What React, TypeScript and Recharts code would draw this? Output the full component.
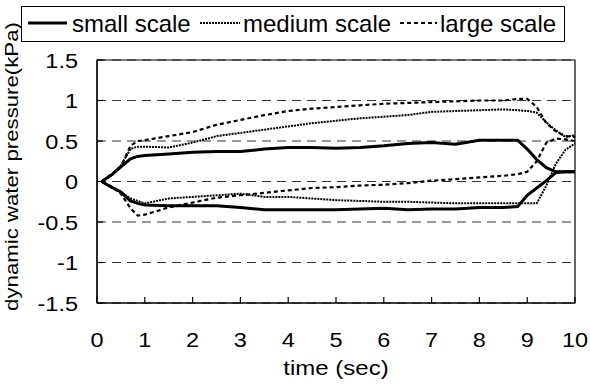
import { CartesianGrid, Label, Line, LineChart, ReferenceArea, XAxis, YAxis } from "recharts";

// sample times (sec) shared by every trace
const times = [0.1, 0.3, 0.5, 0.7, 0.85, 1, 1.5, 2, 2.5, 3, 3.5, 4, 4.5, 5, 5.5, 6, 6.5, 7, 7.5, 8, 8.5, 8.8, 9, 9.2, 9.4, 9.6, 9.8, 10];

// dynamic water pressure (kPa), upper and lower envelope per model scale
const smallUpper = [0, 0.08, 0.18, 0.28, 0.31, 0.32, 0.34, 0.36, 0.37, 0.37, 0.4, 0.42, 0.42, 0.41, 0.42, 0.44, 0.47, 0.48, 0.46, 0.51, 0.51, 0.51, 0.4, 0.27, 0.17, 0.12, 0.12, 0.12];
const smallLower = [0, -0.07, -0.13, -0.24, -0.27, -0.29, -0.3, -0.3, -0.3, -0.32, -0.35, -0.35, -0.35, -0.35, -0.34, -0.33, -0.35, -0.34, -0.34, -0.32, -0.32, -0.31, -0.17, -0.08, 0.01, 0.11, 0.12, 0.12];
const mediumUpper = [0, 0.08, 0.2, 0.4, 0.43, 0.43, 0.42, 0.48, 0.56, 0.6, 0.64, 0.68, 0.72, 0.75, 0.78, 0.8, 0.82, 0.86, 0.87, 0.88, 0.89, 0.88, 0.87, 0.85, 0.73, 0.63, 0.55, 0.57];
const mediumLower = [0, -0.07, -0.13, -0.21, -0.24, -0.27, -0.21, -0.19, -0.17, -0.15, -0.19, -0.19, -0.21, -0.23, -0.24, -0.25, -0.25, -0.26, -0.27, -0.27, -0.27, -0.27, -0.27, -0.27, -0.05, 0.22, 0.39, 0.47];
const largeUpper = [0, 0.09, 0.18, 0.44, 0.5, 0.51, 0.56, 0.61, 0.7, 0.76, 0.82, 0.87, 0.9, 0.92, 0.94, 0.96, 0.97, 0.98, 0.99, 1, 1, 1.02, 1.02, 0.92, 0.72, 0.62, 0.56, 0.55];
const largeLower = [0, -0.06, -0.15, -0.33, -0.42, -0.41, -0.32, -0.26, -0.2, -0.17, -0.14, -0.11, -0.08, -0.07, -0.05, -0.04, -0.02, 0.01, 0.03, 0.05, 0.07, 0.09, 0.12, 0.25, 0.48, 0.53, 0.52, 0.5];

const xTicks = [0, 1, 2, 3, 4, 5, 6, 7, 8, 9, 10];
const yTicks = [-1.5, -1, -0.5, 0, 0.5, 1, 1.5];

const rows = times.map((t, i) => ({
  t,
  smallUpper: smallUpper[i],
  smallLower: smallLower[i],
  mediumUpper: mediumUpper[i],
  mediumLower: mediumLower[i],
  largeUpper: largeUpper[i],
  largeLower: largeLower[i],
}));

const FONT = "'Liberation Sans', Arial, sans-serif";

const styles = {
  small: { stroke: "#000", strokeWidth: 3, strokeDasharray: undefined },
  medium: { stroke: "#000", strokeWidth: 2, strokeDasharray: "2 1" },
  large: { stroke: "#000", strokeWidth: 2.2, strokeDasharray: "4 3" },
};

// legend: sample line span and text start, laid out in one row
const legendItems = [
  { name: "small scale", ...styles.small, x1: 28, x2: 67, tx: 72 },
  { name: "medium scale", ...styles.medium, x1: 200, x2: 240, tx: 243 },
  { name: "large scale", ...styles.large, x1: 400, x2: 437, tx: 440 },
];

const ChartLegend = () => (
  <svg width={590} height={48} style={{ position: "absolute", left: 0, top: 0 }}>
    <rect x={21.5} y={6.5} width={543} height={35} fill="#fff" stroke="#000" strokeWidth={1} />
    {legendItems.map((item) => (
      <g key={item.name}>
        <line
          x1={item.x1}
          y1={23}
          x2={item.x2}
          y2={23}
          stroke={item.stroke}
          strokeWidth={item.strokeWidth}
          strokeDasharray={item.strokeDasharray}
        />
        <text x={item.tx} y={32} fontSize={24} fontFamily={FONT} fill="#000">
          {item.name}
        </text>
      </g>
    ))}
  </svg>
);

// tick marks point into the plot; labels are drawn a little wide
const XTick = ({ x, y, payload }: any) => (
  <g>
    <line x1={x} y1={y} x2={x} y2={y - 6} stroke="#000" strokeWidth={1.2} />
    <text
      transform={`translate(${x} ${y + 44}) scale(1.12 1)`}
      textAnchor="middle"
      fontSize={21}
      fontFamily={FONT}
      fill="#000"
    >
      {payload.value}
    </text>
  </g>
);

const YTick = ({ x, y, payload }: any) => (
  <g>
    <line x1={x} y1={y} x2={x + 6} y2={y} stroke="#000" strokeWidth={1.2} />
    <text
      transform={`translate(${x - 19} ${y + 7.5}) scale(1.12 1)`}
      textAnchor="end"
      fontSize={21}
      fontFamily={FONT}
      fill="#000"
    >
      {payload.value}
    </text>
  </g>
);

const series = [
  { key: "smallUpper", ...styles.small },
  { key: "smallLower", ...styles.small },
  { key: "mediumUpper", ...styles.medium },
  { key: "mediumLower", ...styles.medium },
  { key: "largeUpper", ...styles.large },
  { key: "largeLower", ...styles.large },
];

const App = () => {
  return (
    <div style={{ position: "absolute", left: 0, top: 0, width: 590, height: 385, background: "#fff" }}>
      <LineChart width={590} height={385} data={rows} margin={{ top: 60, right: 15, bottom: 0, left: 0 }}>
        <CartesianGrid vertical={false} stroke="#333" strokeDasharray="9 6" />
        <XAxis
          dataKey="t"
          type="number"
          domain={[0, 10]}
          ticks={xTicks}
          height={82}
          stroke="#000"
          strokeWidth={1.2}
          tickLine={false}
          tickSize={0}
          tickMargin={0}
          tick={<XTick />}
        >
          <Label
            content={({ viewBox }: any) => {
              const cx = viewBox.x + viewBox.width / 2;
              const by = viewBox.y + 72;
              return (
                <text
                  transform={`translate(${cx} ${by}) scale(1.2 1)`}
                  textAnchor="middle"
                  fontSize={20}
                  fontFamily={FONT}
                  fill="#000"
                >
                  time (sec)
                </text>
              );
            }}
          />
        </XAxis>
        <YAxis
          type="number"
          domain={[-1.5, 1.5]}
          ticks={yTicks}
          width={97}
          stroke="#000"
          strokeWidth={1.2}
          tickLine={false}
          tickSize={0}
          tickMargin={0}
          tick={<YTick />}
        >
          <Label
            content={({ viewBox }: any) => {
              const bx = viewBox.x + 18;
              const cy = viewBox.y + viewBox.height / 2 - 15;
              return (
                <text
                  transform={`translate(${bx} ${cy}) rotate(-90) scale(1.17 1)`}
                  textAnchor="middle"
                  fontSize={19}
                  fontFamily={FONT}
                  fill="#000"
                >
                  dynamic water pressure(kPa)
                </text>
              );
            }}
          />
        </YAxis>
        <ReferenceArea x1={0} x2={10} y1={-1.5} y2={1.5} fill="none" stroke="#000" strokeWidth={1.2} />
        {series.map((s) => (
          <Line
            key={s.key}
            dataKey={s.key}
            type="linear"
            stroke={s.stroke}
            strokeWidth={s.strokeWidth}
            strokeDasharray={s.strokeDasharray}
            dot={false}
            activeDot={false}
            isAnimationActive={false}
          />
        ))}
      </LineChart>
      <ChartLegend />
    </div>
  );
};

export default App;
